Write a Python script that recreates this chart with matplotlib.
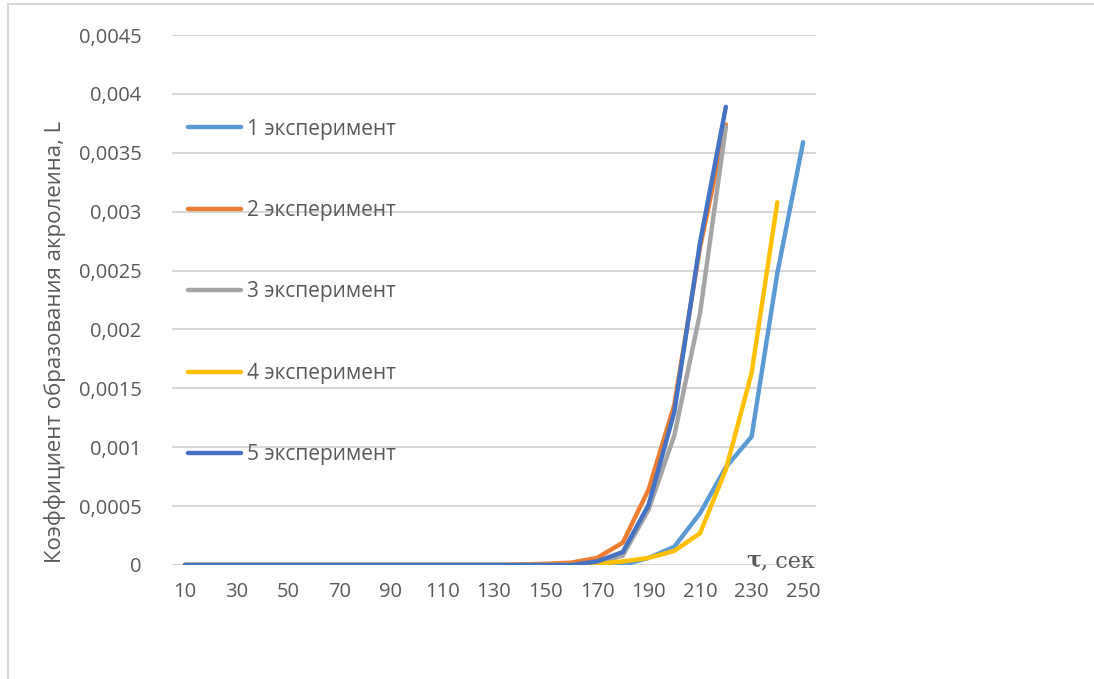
import numpy as np
import matplotlib.pyplot as plt
from matplotlib.patches import Rectangle

# time, seconds
tau = np.arange(10, 260, 10)

exp1 = [0, 0, 0, 0, 0, 0, 0, 0, 0, 0, 0, 0, 0, 0, 0, 0, 0, 0,
        0.00006, 0.000155, 0.00044, 0.00083, 0.00109, 0.00248, 0.00359]
exp2 = [0, 0, 0, 0, 0, 0, 0, 0, 0, 0, 0, 0, 0, 0.000005, 0.00001, 0.00002, 0.00006,
        0.00019, 0.00064, 0.00136, 0.0027, 0.00374]
exp3 = [0, 0, 0, 0, 0, 0, 0, 0, 0, 0, 0, 0, 0, 0, 0, 0, 0.00001,
        0.00008, 0.00047, 0.0011, 0.00214, 0.00372]
exp4 = [0, 0, 0, 0, 0, 0, 0, 0, 0, 0, 0, 0, 0, 0, 0, 0, 0.00001,
        0.00003, 0.00006, 0.00012, 0.00027, 0.00081, 0.00163, 0.00308]
exp5 = [0, 0, 0, 0, 0, 0, 0, 0, 0, 0, 0, 0, 0, 0, 0, 0, 0.00003,
        0.00011, 0.00051, 0.0013, 0.00274, 0.00389]

labels = ['1 эксперимент', '2 эксперимент', '3 эксперимент',
          '4 эксперимент', '5 эксперимент']
colors = ['#5B9BD5', '#ED7D31', '#A5A5A5', '#FFC000', '#4472C4']

yticks = np.arange(0, 0.0046, 0.0005)
ytick_labels = ['0', '0,0005', '0,001', '0,0015', '0,002', '0,0025',
                '0,003', '0,0035', '0,004', '0,0045']
xticks = tau[::2]

plt.rcParams['font.family'] = ['Open Sans', 'DejaVu Sans']
txt = '#595959'

fig = plt.figure(figsize=(10.94, 6.79), dpi=100)
ax = fig.add_axes([172 / 1094, 114 / 679, 644 / 1094, 530 / 679])

for data, lab, c in zip([exp1, exp2, exp3, exp4, exp5], labels, colors):
    ax.plot(tau[:len(data)], data, color=c, lw=3.2, label=lab,
            solid_capstyle='round', solid_joinstyle='round')

ax.set_xlim(5, 255)
ax.set_ylim(0, 0.0045)
ax.set_yticks(yticks)
ax.set_yticklabels(ytick_labels)
ax.set_xticks(xticks)
ax.set_xticklabels([str(v) for v in xticks])
ax.tick_params(length=0, labelsize=14.5, colors=txt)
ax.tick_params(axis='y', pad=22)
ax.tick_params(axis='x', pad=12)
ax.grid(axis='y', color='#d9d9d9', lw=1.5)
ax.set_axisbelow(True)
for s in ax.spines.values():
    s.set_visible(False)

leg = ax.legend(loc='upper left', bbox_to_anchor=(8 / 644, 0.858), frameon=False,
                fontsize=15, handlelength=2.55, handletextpad=0.25,
                labelspacing=2.9, borderaxespad=0)
for t in leg.get_texts():
    t.set_color(txt)

fig.text(55 / 1094, 1 - 342 / 679, 'Коэффициент образования акролеина, L',
         rotation=90, ha='center', va='center', fontsize=16, color=txt)

t1 = fig.text(746 / 1094, 1 - 567 / 679, 'τ', fontsize=16, fontweight='bold',
              family='DejaVu Serif', color=txt, va='baseline')
ax.annotate(', сек', xy=(1, 0), xycoords=t1, va='bottom', fontsize=16,
            family='DejaVu Serif', color=txt, annotation_clip=False)

fig.patches.append(Rectangle((8 / 1094, -0.1), 1.2, 1 - 4 / 679 + 0.1,
                             transform=fig.transFigure, fill=False,
                             edgecolor='#d9d9d9', lw=1.5))

fig.savefig('out.png', dpi=100)
